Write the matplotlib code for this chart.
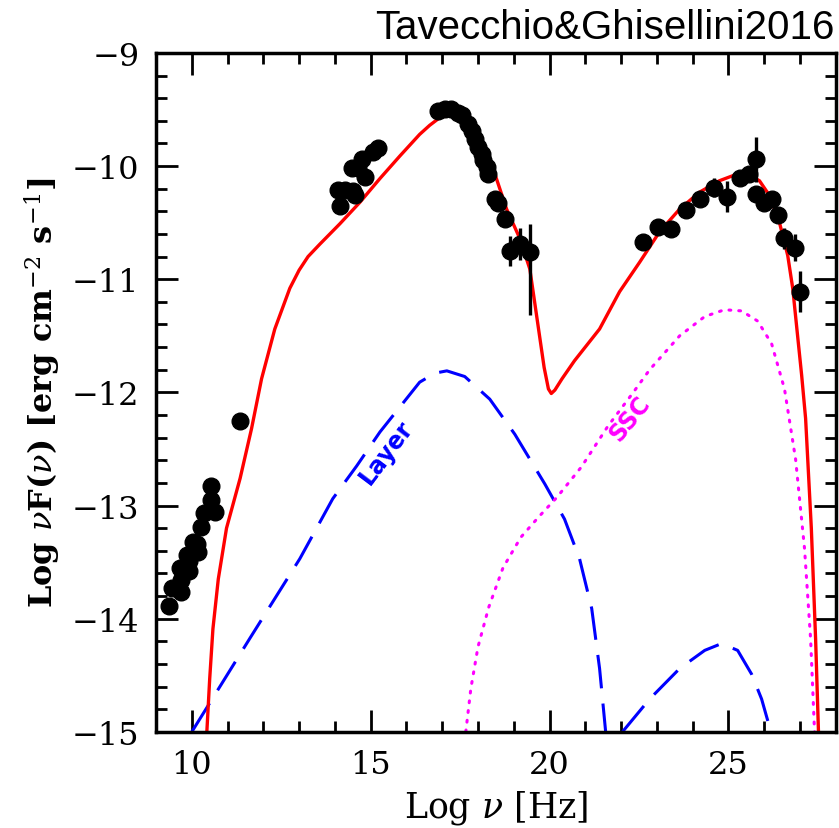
import matplotlib
matplotlib.use("Agg")
import matplotlib.pyplot as plt
from matplotlib.ticker import MultipleLocator

plt.rcParams['mathtext.fontset'] = 'dejavuserif'

# observed SED points: log nu, log nuFnu
obs_x = [9.37, 9.44, 9.69, 9.69, 9.67, 9.92, 9.86, 9.92, 10.03, 10.14, 10.16, 10.26,
         10.34, 10.65, 10.54, 10.53, 11.35,
         14.14, 14.09, 14.28, 14.51, 14.56, 14.47, 14.65, 14.75, 14.84, 15.07, 15.21,
         16.89, 17.07, 17.26, 17.44, 17.54, 17.72, 17.82, 17.91, 18.00, 18.10, 18.14,
         18.24, 18.28, 18.47, 18.56, 18.75]
obs_y = [-13.89, -13.73, -13.66, -13.76, -13.55, -13.58, -13.44, -13.49, -13.32, -13.34,
         -13.41, -13.19, -13.07, -13.06, -12.95, -12.83, -12.25,
         -10.35, -10.21, -10.21, -10.22, -10.26, -10.02, -10.02, -9.94, -10.10, -9.88, -9.84,
         -9.51, -9.50, -9.50, -9.53, -9.55, -9.63, -9.69, -9.76, -9.83, -9.89, -9.95,
         -10.01, -10.07, -10.29, -10.33, -10.47]

# points with error bars (hard X-ray and gamma-ray)
err_x = [18.89, 19.17, 19.45, 22.61, 23.03, 23.40, 23.82, 24.20, 24.61, 24.96, 25.33,
         25.59, 25.78, 25.78, 26.01, 26.23, 26.38, 26.57, 26.85, 26.99]
err_y = [-10.75, -10.69, -10.76, -10.67, -10.54, -10.56, -10.39, -10.29, -10.19, -10.27,
         -10.11, -10.07, -9.94, -10.25, -10.33, -10.29, -10.43, -10.64, -10.72, -11.11]
err_lo = [0.13, 0.14, 0.56, 0.0, 0.0, 0.0, 0.0, 0.0, 0.08, 0.14, 0.0, 0.0, 0.2, 0.0,
          0.0, 0.0, 0.0, 0.09, 0.12, 0.18]
err_hi = [0.13, 0.14, 0.25, 0.0, 0.0, 0.0, 0.0, 0.0, 0.08, 0.14, 0.0, 0.0, 0.2, 0.0,
          0.0, 0.0, 0.0, 0.09, 0.12, 0.18]

# total model
tot_x = [10.42, 10.50, 10.59, 10.74, 10.97, 11.35, 11.67, 11.95, 12.32, 12.74, 13.00,
         13.25, 13.58, 14.14, 14.70, 15.26, 15.82, 16.37, 16.65, 16.90, 17.13, 17.35,
         17.55, 17.75, 18.05, 18.42, 18.80, 19.17, 19.45, 19.68, 19.85, 19.97, 20.05,
         20.15, 20.35, 20.70, 21.40, 21.96, 22.52, 23.08, 23.64, 24.20, 24.75, 25.17,
         25.59, 25.87, 26.15, 26.43, 26.66, 26.80, 26.92, 27.05, 27.16, 27.32, 27.44,
         27.52]
tot_y = [-15.0, -14.53, -14.09, -13.65, -13.20, -12.76, -12.32, -11.88, -11.44, -11.08,
         -10.92, -10.80, -10.69, -10.51, -10.32, -10.11, -9.91, -9.72, -9.64, -9.58,
         -9.55, -9.55, -9.58, -9.65, -9.82, -10.02, -10.38, -10.64, -10.91, -11.41,
         -11.78, -11.97, -12.01, -11.98, -11.88, -11.72, -11.44, -11.11, -10.85, -10.58,
         -10.38, -10.23, -10.13, -10.08, -10.08, -10.13, -10.26, -10.50, -10.79, -11.08,
         -11.45, -11.85, -12.23, -13.20, -14.18, -15.0]

# layer component (two humps)
lay1_x = [10.00, 11.63, 13.02, 13.94, 14.61, 15.26, 16.37, 16.80, 17.13, 17.63, 18.33,
          19.03, 19.87, 20.42, 20.84, 21.18, 21.40, 21.57]
lay1_y = [-15.0, -14.17, -13.47, -12.94, -12.65, -12.35, -11.91, -11.83, -11.81, -11.86,
          -12.06, -12.37, -12.81, -13.12, -13.47, -13.91, -14.44, -15.0]
lay2_x = [22.04, 22.80, 23.64, 24.34, 24.81, 25.26, 25.65, 25.93, 26.19]
lay2_y = [-15.0, -14.71, -14.44, -14.28, -14.22, -14.28, -14.49, -14.71, -15.0]

# SSC component
ssc_x = [17.66, 17.80, 18.00, 18.30, 18.70, 19.20, 19.70, 20.20, 20.89, 21.63, 22.32,
         22.80, 23.64, 24.34, 24.89, 25.37, 25.82, 26.21, 26.57, 26.88, 27.13, 27.30,
         27.41]
ssc_y = [-15.0, -14.62, -14.25, -13.90, -13.55, -13.28, -13.10, -12.93, -12.66, -12.30,
         -12.01, -11.80, -11.50, -11.33, -11.27, -11.28, -11.37, -11.57, -11.97, -12.59,
         -13.38, -14.18, -15.0]

fig = plt.figure(figsize=(8.39, 8.29), dpi=100)
ax = fig.add_axes([0.186, 0.116, 0.810, 0.819])

ax.plot(lay1_x, lay1_y, color='blue', lw=2.2, dashes=(11, 5))
ax.plot(lay2_x, lay2_y, color='blue', lw=2.2, dashes=(11, 5))
ax.plot(ssc_x, ssc_y, color='magenta', lw=2.2, linestyle=(0, (0.6, 2.6)),
        dash_capstyle='round')
ax.plot(tot_x, tot_y, color='red', lw=2.4)

ax.plot(obs_x, obs_y, 'o', color='black', ms=12, zorder=5)
ax.errorbar(err_x, err_y, yerr=[err_lo, err_hi], fmt='o', color='black', ms=12,
            elinewidth=2.4, capsize=0, zorder=5)

ax.text(15.45, -12.52, 'Layer', color='blue', fontsize=17, fontweight='bold',
        rotation=53, ha='center', va='center', family='DejaVu Sans')
ax.text(22.24, -12.23, 'SSC', color='magenta', fontsize=17, fontweight='bold',
        rotation=51, ha='center', va='center', family='DejaVu Sans')

ax.set_xlim(9, 28)
ax.set_ylim(-15, -9)
ax.xaxis.set_major_locator(MultipleLocator(5))
ax.xaxis.set_minor_locator(MultipleLocator(1))
ax.yaxis.set_major_locator(MultipleLocator(1))
ax.yaxis.set_minor_locator(MultipleLocator(0.2))
ax.tick_params(which='both', direction='in', top=True, right=True, width=2.0)
ax.tick_params(which='major', length=16, labelsize=23, pad=12)
ax.tick_params(which='minor', length=8)
for lab in ax.get_xticklabels() + ax.get_yticklabels():
    lab.set_family('DejaVu Serif')
for sp in ax.spines.values():
    sp.set_linewidth(2.5)

ax.set_xlabel(r'Log $\nu$ [Hz]', fontsize=25, family='DejaVu Serif', labelpad=6)
ax.set_ylabel(r'Log $\nu$F($\nu$) [erg cm$^{-2}$ s$^{-1}$]', fontsize=23,
              family='DejaVu Serif', fontweight='bold', labelpad=6)

fig.text(0.995, 0.966, 'Tavecchio&Ghisellini2016', ha='right', va='center',
         fontsize=29, family='Liberation Sans')

fig.savefig('out.png', dpi=100)
